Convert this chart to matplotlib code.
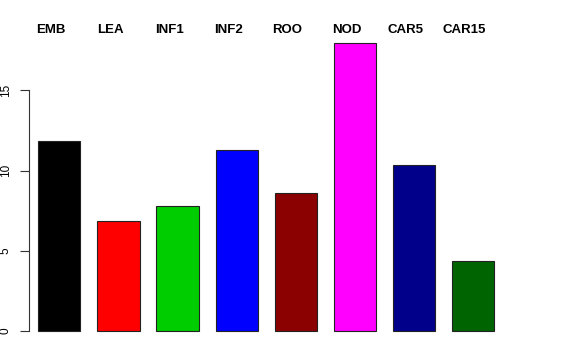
import matplotlib.pyplot as plt
import numpy as np

# valores (barplot do R)
categorias = ['EMB', 'LEA', 'INF1', 'INF2', 'ROO', 'NOD', 'CAR5', 'CAR15']
valores = [11.83, 6.86, 7.80, 11.27, 8.63, 17.98, 10.36, 4.35]
cores = ['#000000', '#FF0000', '#00CD00', '#0000FF',
         '#8B0000', '#FF00FF', '#00008B', '#006400']
ticks_y = [0, 5, 10, 15]

plt.rcParams['font.family'] = ['Liberation Sans', 'DejaVu Sans']

fig = plt.figure(figsize=(5.76, 3.6), dpi=100)
# posicao dos eixos em pixels (esquerda 28.7, direita 520, topo 31, base 342.5)
ax = fig.add_axes([28.7 / 576, (360 - 342.5) / 360,
                   (520 - 28.7) / 576, (342.5 - 31) / 360])

# barras com space=0.4 como no barplot do R
centros = 0.9 + 1.4 * np.arange(len(categorias))
ax.bar(centros, valores, width=1.0, color=cores,
       edgecolor='#222222', linewidth=0.8)

ax.set_xlim(0.1725, 11.815)
ax.set_ylim(-0.717, 18.71)

for c, nome in zip(centros, categorias):
    ax.text(c - 0.2, 18.78, nome, ha='center', va='center',
            fontsize=9.5, fontweight='bold', clip_on=False)

for lado in ['top', 'right', 'bottom']:
    ax.spines[lado].set_visible(False)
ax.spines['left'].set_bounds(0, 15)
ax.spines['left'].set_color('#333333')
ax.spines['left'].set_linewidth(0.8)

ax.set_xticks([])
ax.set_yticks(ticks_y)
ax.set_yticklabels([str(t) for t in ticks_y], rotation=90, va='center')
ax.tick_params(axis='y', length=6.2, width=0.8, color='#333333',
               labelsize=8.5, pad=6)

fig.savefig('out.png', dpi=100)
